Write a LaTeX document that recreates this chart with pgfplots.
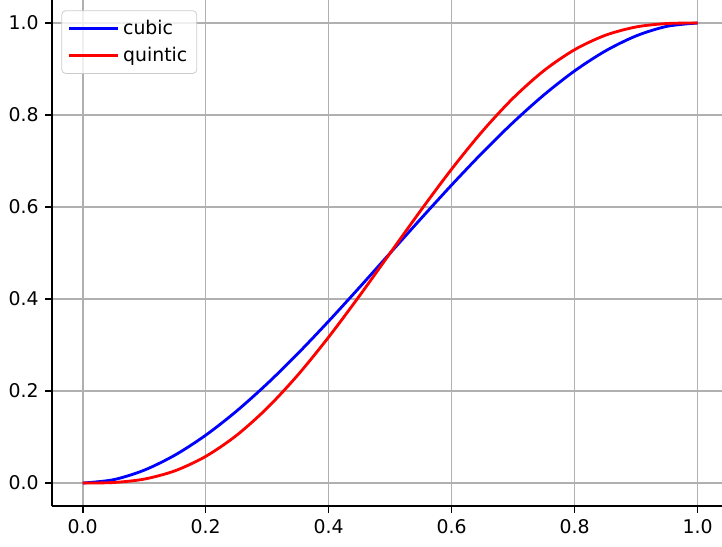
\documentclass[border=0pt]{standalone}
\usepackage{fontspec}
\setmainfont{DejaVu Sans}
\usepackage{pgfplots}
\pgfplotsset{compat=1.18}
\definecolor{gridgray}{HTML}{B0B0B0}
\definecolor{legedge}{HTML}{CCCCCC}
\begin{document}
\begin{tikzpicture}
\begin{axis}[
  at={(0,0)}, anchor=south west,
  scale only axis, width=358.5pt, height=268.2pt,
  xmin=-0.05, xmax=1.05, ymin=-0.05, ymax=1.05,
  axis x line*=bottom, axis y line*=left,
  axis line style={-, line width=0.8pt, black},
  xtick={0,0.2,0.4,0.6,0.8,1.0}, ytick={0,0.2,0.4,0.6,0.8,1.0},
  tick align=outside, major tick length=3.5pt,
  tick style={line width=0.8pt, black},
  xmajorgrids, ymajorgrids,
  grid style={line width=0.8pt, gridgray},
  /pgf/number format/assume math mode=true,
  /pgf/number format/fixed, /pgf/number format/fixed zerofill, /pgf/number format/precision=1,
  tick label style={font=\fontsize{10}{12}\selectfont},
  legend style={at={(0,1)}, xshift=5pt, yshift=-5.5pt, anchor=north west,
    draw=legedge, rounded corners=2pt, fill=white, fill opacity=0.8, text opacity=1,
    font=\fontsize{10}{12}\selectfont, row sep=1pt, inner sep=3pt},
  legend cell align=left,
  legend image code/.code={\draw[#1] (0pt,0pt) -- (20pt,0pt); \path (0pt,0pt) -- (26pt,0pt);},
]
\addplot[blue, line width=1.5pt, smooth] coordinates {
(0,0) (0.05,0.00725) (0.1,0.028) (0.15,0.06075) (0.2,0.104) (0.25,0.15625)
(0.3,0.216) (0.35,0.28175) (0.4,0.352) (0.45,0.42525) (0.5,0.5)
(0.55,0.57475) (0.6,0.648) (0.65,0.71825) (0.7,0.784) (0.75,0.84375)
(0.8,0.896) (0.85,0.93925) (0.9,0.972) (0.95,0.99275) (1,1)};
\addlegendentry{cubic}
\addplot[red, line width=1.5pt, smooth] coordinates {
(0,0) (0.05,0.001158) (0.1,0.00856) (0.15,0.026612) (0.2,0.05792) (0.25,0.103516)
(0.3,0.16308) (0.35,0.235169) (0.4,0.31744) (0.45,0.406873) (0.5,0.5)
(0.55,0.593127) (0.6,0.68256) (0.65,0.764831) (0.7,0.83692) (0.75,0.896484)
(0.8,0.94208) (0.85,0.973388) (0.9,0.99144) (0.95,0.998842) (1,1)};
\addlegendentry{quintic}
\end{axis}
\pgfresetboundingbox
\path (-27.56pt,-21.2pt) rectangle (355.1pt,268.2pt);
\end{tikzpicture}
\end{document}
